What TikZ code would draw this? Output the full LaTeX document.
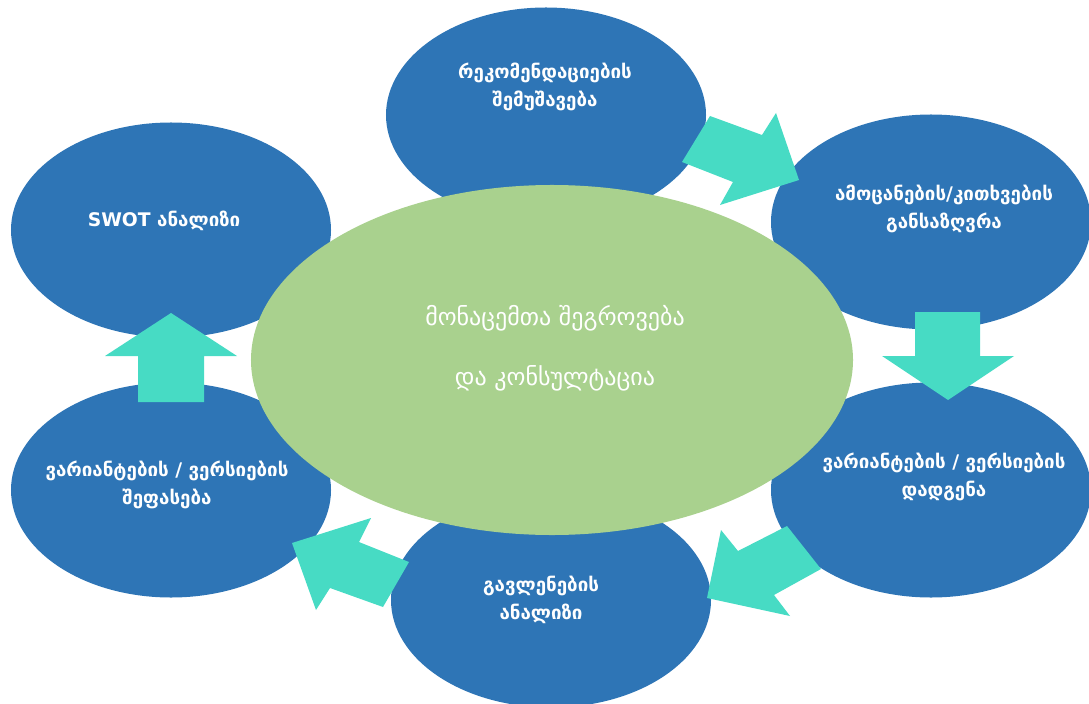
\documentclass[tikz,border=0pt]{standalone}
\usepackage{fontspec}
\setmainfont{DejaVu Sans}
\usetikzlibrary{shapes.geometric}
\definecolor{blobblue}{HTML}{2E75B6}
\definecolor{hubgreen}{HTML}{A9D18E}
\definecolor{flowcyan}{HTML}{47DBC4}
\tikzset{
  blob/.style={ellipse, fill=blobblue, minimum width=9.6cm, minimum height=6.45cm, inner sep=0pt},
  hub/.style={ellipse, fill=hubgreen, minimum width=18.06cm, minimum height=10.5cm, inner sep=0pt},
  txt/.style={text=white, font=\bfseries\fontsize{16}{24}\selectfont, align=center},
  hubtxt/.style={text=white, font=\fontsize{20.5}{51}\selectfont, align=center},
  flow/.style={fill=flowcyan}
}
\begin{document}
\begin{tikzpicture}[x=0.03cm, y=-0.03cm]
    \useasboundingbox (0,0) rectangle (1089,704);
    % outer ellipses
    \node[blob] (rec) at (546,115) {};
    \node[blob] (task) at (931,222) {};
    \node[blob] (opt) at (931,490) {};
    \node[blob] (impact) at (551,600) {};
    \node[blob] (assess) at (171,490) {};
    \node[blob] (swot) at (171,230) {};
    \node[hub] (data) at (552,360) {};
    % labels
    \node[txt] (rec-t) at (545,87) {რეკომენდაციების\\შემუშავება};
    \node[txt] (task-t) at (944,209) {ამოცანების/კითხვების\\განსაზღვრა};
    \node[txt] (opt-t) at (944,477) {ვარიანტების / ვერსიების\\დადგენა};
    \node[txt] (impact-t) at (541,600) {გავლენების\\ანალიზი};
    \node[txt] (assess-t) at (167,485) {ვარიანტების / ვერსიების\\შეფასება};
    \node[txt] (swot-t) at (164,221) {SWOT ანალიზი};
    \node[hubtxt] (data-t) at (555,348) {მონაცემთა შეგროვება\\და კონსულტაცია};
    % block arrows
    \fill[flow] (710,116) -- (762,135) -- (776,113) -- (799,180) -- (720,205) -- (733,182) -- (682,162) -- cycle;
    \fill[flow] (915,312) -- (980,312) -- (980,356) -- (1014,356) -- (948,400) -- (882,356) -- (915,356) -- cycle;
    \fill[flow] (787,526) -- (821,569) -- (774,595) -- (790,616) -- (707,598) -- (721,530) -- (738,551) -- cycle;
    \fill[flow] (409,562) -- (383,607) -- (330,588) -- (316,610) -- (292,543) -- (371,518) -- (359,542) -- cycle;
    \fill[flow] (138,402) -- (204,402) -- (204,356) -- (237,356) -- (171,313) -- (105,356) -- (138,356) -- cycle;
\end{tikzpicture}
\end{document}
